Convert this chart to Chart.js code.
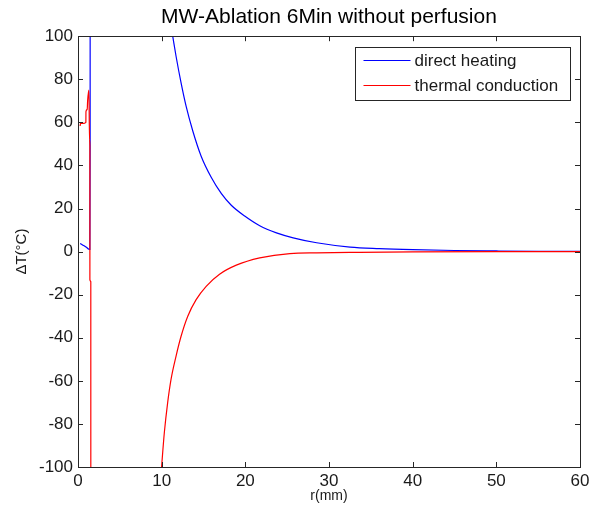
<!DOCTYPE html>
<html>
<head>
<meta charset="utf-8">
<script src="https://cdn.jsdelivr.net/npm/chart.js@4"></script>
<style>
  html, body { margin: 0; padding: 0; background: #fff; }
  #wrap { width: 597px; height: 514px; }
</style>
</head>
<body>
<div id="wrap"><canvas id="chart" width="597" height="514"></canvas></div>
<script>
// r in mm, temperature rise in degrees C
const rDirect = [0.25, 0.6, 1.0, 1.25, 1.42, 1.45, 1.46, 1.6, 2, 3, 4, 5, 6, 7, 8, 9, 10, 10.8,
    11.32, 11.72, 12.32, 12.92, 13.72, 14.72, 15.92, 17.12, 18.32, 19.92, 21.72, 23.72, 25.72,
    28.52, 32.52, 36, 40, 45, 50, 55, 60];
const dtDirect = [3.8, 3.0, 2.0, 1.2, 1.0, 49, 300, 1200, 1500, 1100, 800, 560, 400, 300, 230, 175, 135, 112,
    100, 90.7, 78.3, 67.5, 56, 44.3, 34.5, 27.0, 21.5, 16.5, 12.0, 8.7, 6.4,
    4.1, 2.1, 1.4, 0.9, 0.5, 0.3, 0.15, 0.1];

const rConduction = [0.25, 0.3, 0.6, 0.94, 0.95, 1.1, 1.15, 1.3, 1.38, 1.42, 1.421, 1.53, 1.54, 2, 3, 4, 5,
    6, 7, 8, 9, 9.6, 10, 10.32, 10.72, 11.12, 11.72, 12.32, 13.12, 14.12, 15.32, 16.92, 18.92,
    21.72, 25.32, 28.52, 32.5, 40, 50, 60];
const dtConduction = [58.3, 59.5, 59.5, 60, 65, 66, 70, 75, 52, 49, -13, -14, -300, -1400, -1000, -750, -540,
    -390, -290, -215, -160, -120, -99.5, -84, -70, -59.3, -48.5, -39.3, -30, -22.3, -16.1, -10.5, -6.3,
    -2.9, -0.9, -0.6, -0.4, -0.1, 0, 0];

const seriesLabels = ['direct heating', 'thermal conduction'];
const seriesColors = ['#0000ff', '#ff0000'];

const FONT = "'Liberation Sans', Arial, sans-serif";

function toPoints(xs, ys) {
    return xs.map((x, i) => ({x: x, y: ys[i]}));
}

// MATLAB style box with inward ticks + boxed legend in the corner
const matlabAxes = {
    id: 'matlabAxes',
    afterDraw(chart) {
        const {ctx, chartArea: a, scales: {x, y}} = chart;
        const tick = 5;
        ctx.save();
        ctx.strokeStyle = '#262626';
        ctx.lineWidth = 1;
        ctx.beginPath();
        x.ticks.forEach(t => {
            const px = Math.round(x.getPixelForValue(t.value)) + 0.5;
            ctx.moveTo(px, a.bottom); ctx.lineTo(px, a.bottom - tick);
            ctx.moveTo(px, a.top); ctx.lineTo(px, a.top + tick);
        });
        y.ticks.forEach(t => {
            const py = Math.round(y.getPixelForValue(t.value)) + 0.5;
            ctx.moveTo(a.left, py); ctx.lineTo(a.left + tick, py);
            ctx.moveTo(a.right, py); ctx.lineTo(a.right - tick, py);
        });
        ctx.stroke();
        ctx.strokeRect(Math.round(a.left) + 0.5, Math.round(a.top) + 0.5,
            Math.round(a.right - a.left), Math.round(a.bottom - a.top));

        // legend
        const boxW = 215, boxH = 53;
        const bx = Math.round(a.right) - 10 - boxW + 0.5;
        const by = Math.round(a.top) + 11 + 0.5;
        ctx.fillStyle = '#fff';
        ctx.fillRect(bx, by, boxW, boxH);
        ctx.strokeRect(bx, by, boxW, boxH);
        ctx.font = '17px ' + FONT;
        ctx.textBaseline = 'middle';
        chart.data.datasets.forEach((ds, i) => {
            const ly = by + 13 + i * 25;
            ctx.strokeStyle = ds.borderColor;
            ctx.lineWidth = 1.2;
            ctx.beginPath();
            ctx.moveTo(bx + 8, ly);
            ctx.lineTo(bx + 55, ly);
            ctx.stroke();
            ctx.fillStyle = '#1a1a1a';
            ctx.fillText(ds.label, bx + 59, ly + 1);
        });
        ctx.restore();
    }
};

new Chart(document.getElementById('chart'), {
    type: 'line',
    data: {
        datasets: [{
            label: seriesLabels[0],
            data: toPoints(rDirect, dtDirect),
            borderColor: seriesColors[0],
            borderWidth: 1.2,
            pointRadius: 0,
            cubicInterpolationMode: 'monotone',
            order: 1
        }, {
            label: seriesLabels[1],
            data: toPoints(rConduction, dtConduction),
            borderColor: seriesColors[1],
            borderWidth: 1.2,
            pointRadius: 0,
            cubicInterpolationMode: 'monotone',
            order: 0
        }]
    },
    options: {
        responsive: false,
        animation: false,
        layout: {
            padding: {left: 0, right: 17, top: 0, bottom: 0}
        },
        plugins: {
            legend: {display: false},
            tooltip: {enabled: false},
            title: {
                display: true,
                text: 'MW-Ablation 6Min without perfusion',
                fullSize: false,
                color: '#000',
                font: {family: FONT, size: 21, weight: 'normal', lineHeight: 1.2},
                padding: {top: 5, bottom: 6}
            }
        },
        scales: {
            x: {
                type: 'linear',
                min: 0,
                max: 60,
                ticks: {
                    stepSize: 10,
                    color: '#1a1a1a',
                    padding: 4,
                    maxRotation: 0,
                    font: {family: FONT, size: 17}
                },
                grid: {display: false, drawTicks: false},
                border: {display: false},
                title: {
                    display: true,
                    text: 'r(mm)',
                    color: '#1a1a1a',
                    font: {family: FONT, size: 14},
                    padding: {top: 0, bottom: 9}
                },
                afterFit(scale) { scale.height = 47; }
            },
            y: {
                min: -100,
                max: 100,
                ticks: {
                    stepSize: 20,
                    color: '#1a1a1a',
                    padding: 5,
                    font: {family: FONT, size: 17}
                },
                grid: {display: false, drawTicks: false},
                border: {display: false},
                title: {
                    display: true,
                    text: 'ΔT(°C)',
                    color: '#1a1a1a',
                    font: {family: FONT, size: 15},
                    padding: {top: 13, bottom: 0}
                },
                afterFit(scale) { scale.width = 78; }
            }
        }
    },
    plugins: [matlabAxes]
});
</script>
</body>
</html>
